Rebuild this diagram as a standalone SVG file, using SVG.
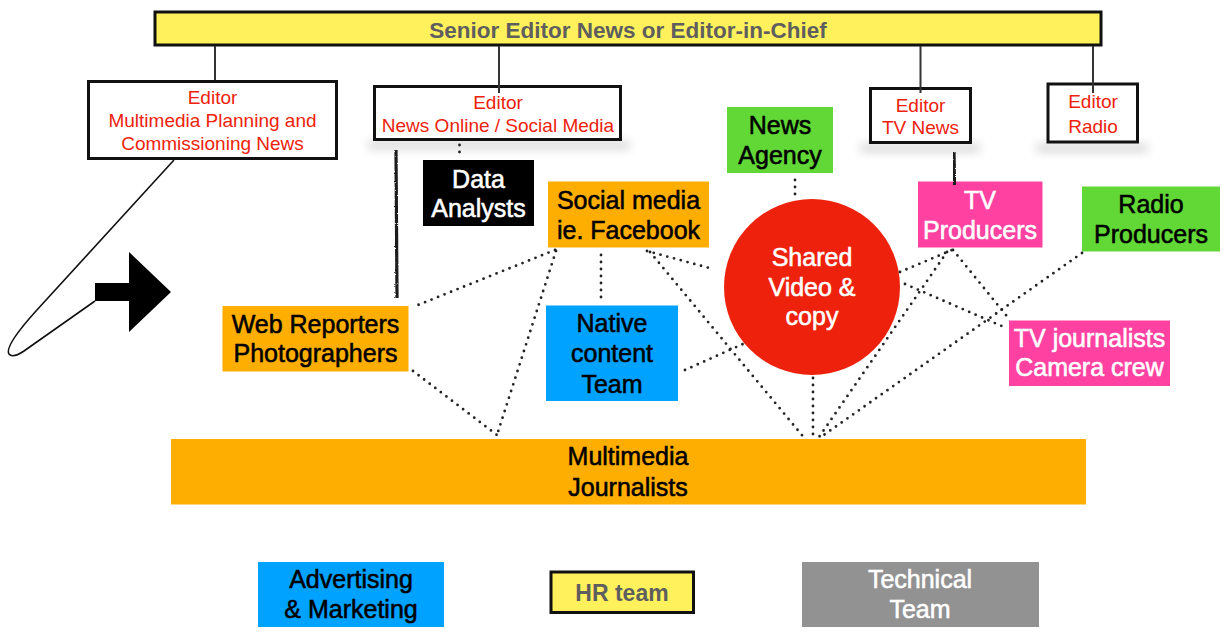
<svg xmlns="http://www.w3.org/2000/svg" width="1226" height="632" viewBox="0 0 1226 632">
<defs>
<style>
text{font-family:"Liberation Sans",Arial,Helvetica,sans-serif;text-anchor:middle}
.t{font-size:25px;fill:#000;stroke:#000;stroke-width:0.55}
.w{font-size:25px;fill:#fff;stroke:#fff;stroke-width:0.55}
.r{font-size:19px;fill:#EE220C}
.g{font-size:22.5px;font-weight:bold;fill:#5E5E5E}
.ed{fill:#fff;stroke:#111;stroke-width:3}
.or{fill:#FEAE00}
.gr{fill:#61D836}
.pk{fill:#FF42A1}
.bl{fill:#00A2FF}
.thin{stroke:#333;stroke-width:2;fill:none}
.rough{stroke:#1a1a1a;stroke-width:3.2;fill:none;filter:url(#rg)}
.dot{stroke:#222;stroke-width:2.8;stroke-linecap:round;stroke-dasharray:0 7;fill:none}
.sh{fill:#000;opacity:0.13;filter:url(#bl)}
</style>
<filter id="bl" x="-30%" y="-200%" width="160%" height="500%"><feGaussianBlur stdDeviation="5"/></filter>
<filter id="rg" x="-200%" y="-10%" width="500%" height="120%"><feTurbulence type="fractalNoise" baseFrequency="0.9" numOctaves="1" seed="3"/><feDisplacementMap in="SourceGraphic" scale="2.5" xChannelSelector="R" yChannelSelector="G"/></filter>
</defs>
<rect width="1226" height="632" fill="#fff"/>

<g id="shadows">
<rect class="sh" x="368" y="140" width="262" height="10"/>
<rect class="sh" x="860" y="143" width="120" height="10"/>
<rect class="sh" x="1036" y="143" width="112" height="10"/>
</g>

<g id="node-chief">
<rect x="155" y="12" width="946" height="33" fill="#FEF15C" stroke="#111" stroke-width="3"/>
<text class="g" x="628" y="38">Senior Editor News or Editor-in-Chief</text>
</g>
<g id="node-ed-multimedia">
<rect class="ed" x="88.5" y="81.5" width="248" height="77"/>
<text class="r" x="212.5" y="104">Editor</text>
<text class="r" x="212.5" y="127">Multimedia Planning and</text>
<text class="r" x="212.5" y="150">Commissioning News</text>
</g>
<g id="node-ed-online">
<rect class="ed" x="374.5" y="86.5" width="246" height="53"/>
<text class="r" x="498" y="108.5">Editor</text>
<text class="r" x="498" y="132">News Online / Social Media</text>
</g>
<g id="node-ed-tv">
<rect class="ed" x="870.5" y="88.5" width="100" height="54"/>
<text class="r" x="920.5" y="111.5">Editor</text>
<text class="r" x="920.5" y="134">TV News</text>
</g>
<g id="node-ed-radio">
<rect class="ed" x="1048" y="84" width="89.5" height="58"/>
<text class="r" x="1093" y="107.5">Editor</text>
<text class="r" x="1093" y="133">Radio</text>
</g>
<g id="node-data">
<rect x="423" y="160" width="111" height="66" fill="#000"/>
<text class="w" x="478.5" y="188">Data</text>
<text class="w" x="478.5" y="217">Analysts</text>
</g>
<g id="node-social">
<rect class="or" x="548" y="181.5" width="161" height="66"/>
<text class="t" x="628.5" y="208.5">Social media</text>
<text class="t" x="628.5" y="238.5">ie. Facebook</text>
</g>
<g id="node-agency">
<rect class="gr" x="727" y="107" width="106" height="66"/>
<text class="t" x="780" y="134">News</text>
<text class="t" x="780" y="164">Agency</text>
</g>
<g id="node-shared">
<circle cx="812" cy="287" r="88" fill="#EE220C"/>
<text class="w" x="812" y="266">Shared</text>
<text class="w" x="812" y="296">Video &amp;</text>
<text class="w" x="812" y="325">copy</text>
</g>
<g id="node-tvprod">
<rect class="pk" x="918" y="181.5" width="124.5" height="66"/>
<text class="w" x="980" y="209">TV</text>
<text class="w" x="980" y="239">Producers</text>
</g>
<g id="node-radioprod">
<rect class="gr" x="1082" y="186.5" width="138" height="65"/>
<text class="t" x="1151" y="212.5">Radio</text>
<text class="t" x="1151" y="242.5">Producers</text>
</g>
<g id="node-web">
<rect class="or" x="222.5" y="306" width="186" height="65.5"/>
<text class="t" x="315.5" y="332.5">Web Reporters</text>
<text class="t" x="315.5" y="362">Photographers</text>
</g>
<g id="node-native">
<rect class="bl" x="546" y="305.5" width="132" height="95.5"/>
<text class="t" x="612" y="331.5">Native</text>
<text class="t" x="612" y="361.5">content</text>
<text class="t" x="612" y="392.5">Team</text>
</g>
<g id="node-tvjourn">
<rect class="pk" x="1009" y="320.5" width="161" height="65.5"/>
<text class="w" x="1089.5" y="346.5">TV journalists</text>
<text class="w" x="1089.5" y="376">Camera crew</text>
</g>
<g id="node-mmj">
<rect class="or" x="171" y="439" width="915" height="65.5"/>
<text class="t" x="628" y="465">Multimedia</text>
<text class="t" x="628" y="496">Journalists</text>
</g>
<g id="node-advertising">
<rect class="bl" x="258" y="562" width="186" height="65"/>
<text class="t" x="351" y="588">Advertising</text>
<text class="t" x="351" y="618">&amp; Marketing</text>
</g>
<g id="node-hr">
<rect x="551" y="572" width="142.5" height="40.5" fill="#FEF15C" stroke="#111" stroke-width="3"/>
<text class="g" x="622" y="600.5" style="font-size:23px">HR team</text>
</g>
<g id="node-technical">
<rect x="802" y="562" width="237" height="65" fill="#929292"/>
<text class="w" x="920" y="588">Technical</text>
<text class="w" x="920" y="618">Team</text>
</g>
<g id="node-arrow">
<polygon points="95,283 129,283 129,252 171,292 129,332 129,301 95,301" fill="#000"/>
</g>

<g id="connectors">
<line class="thin" x1="215" y1="46" x2="215" y2="80"/>
<line class="thin" x1="499" y1="46" x2="499" y2="93"/>
<line class="thin" x1="920.5" y1="46" x2="920.5" y2="93"/>
<line class="thin" x1="1093" y1="46" x2="1093" y2="93"/>
<line class="rough" x1="396" y1="150" x2="397" y2="298"/>
<line class="rough" x1="563" y1="150" x2="563" y2="182"/>
<line class="rough" x1="954" y1="152" x2="954.5" y2="185"/>
<line class="rough" x1="1115" y1="149" x2="1115" y2="185"/>
<path d="M174,160 L36,311 C18,331 5,348 9,354 C12,358 18,355 24,351 L95,301" fill="none" stroke="#111" stroke-width="1.6"/>
<line class="dot" x1="459.5" y1="145" x2="459.5" y2="159"/>
<line class="dot" x1="795" y1="180" x2="795" y2="197"/>
<line class="dot" x1="601" y1="255" x2="601" y2="304"/>
<line class="dot" x1="555" y1="250" x2="418" y2="305"/>
<line class="dot" x1="556" y1="251" x2="497" y2="435"/>
<line class="dot" x1="413" y1="371" x2="497" y2="435"/>
<line class="dot" x1="647" y1="251" x2="713" y2="269"/>
<line class="dot" x1="650" y1="252" x2="806" y2="440"/>
<line class="dot" x1="685" y1="370" x2="743" y2="344"/>
<line class="dot" x1="813" y1="378" x2="813" y2="437"/>
<line class="dot" x1="900" y1="272" x2="952" y2="250"/>
<line class="dot" x1="953" y1="250" x2="1010" y2="320"/>
<line class="dot" x1="905" y1="284" x2="1004" y2="327"/>
<line class="dot" x1="947" y1="252" x2="817" y2="440"/>
<line class="dot" x1="1082" y1="253" x2="821" y2="437"/>
</g>
</svg>
